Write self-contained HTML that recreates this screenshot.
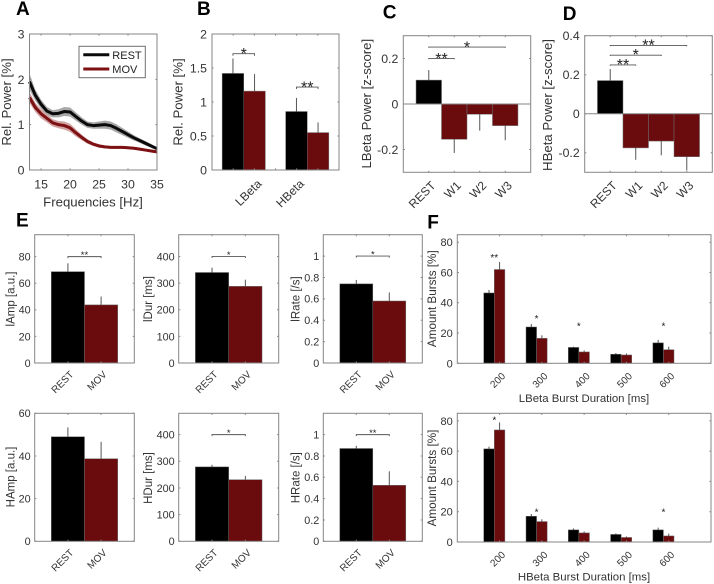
<!DOCTYPE html>
<html lang="en">
<head>
<meta charset="utf-8">
<title>Beta power and burst statistics</title>
<style>
html,body{margin:0;padding:0;background:#fff;}
body{width:714px;height:584px;overflow:hidden;}
svg{display:block;font-family:"Liberation Sans",Arial,sans-serif;}
</style>
</head>
<body>
<svg id="fig" xmlns="http://www.w3.org/2000/svg" width="714" height="584" viewBox="0 0 714 584"></svg>
<script>
// ---------- Panel A data ----------
const freqs = [13,14,15,16,17,18,19,20,21,22,23,24,25,26,27,28,29,30,31,32,33,34,35];
const restPower = [1.95,1.65,1.45,1.3,1.24,1.25,1.29,1.28,1.18,1.08,1.0,0.98,0.99,1.0,0.98,0.92,0.85,0.78,0.71,0.65,0.59,0.53,0.47];
const movPower = [1.6,1.38,1.24,1.14,1.04,1.0,0.98,0.93,0.82,0.72,0.63,0.57,0.53,0.51,0.5,0.5,0.5,0.49,0.48,0.46,0.44,0.42,0.4];
const restSem = [0.18,0.12,0.1,0.09,0.08,0.09,0.1,0.1,0.09,0.08,0.07,0.07,0.08,0.09,0.09,0.09,0.08,0.07,0.06,0.05,0.05,0.04,0.03];
const movSem = [0.12,0.1,0.1,0.09,0.08,0.08,0.09,0.09,0.08,0.06,0.05,0.04,0.04,0.03,0.03,0.03,0.03,0.03,0.03,0.03,0.03,0.03,0.03];
const freqTicks = [15,20,25,30,35];
const powerTicks = [0,1,2,3];

// ---------- Panel B data ----------
const bandCategories = ['LBeta','HBeta'];
const bandTickLabels = ['','LBeta','','HBeta',''];
const bandRest = [1.42,0.86];
const bandMov = [1.16,0.55];
const bandRestErr = [0.22,0.2];
const bandMovErr = [0.25,0.15];
const bandTicks = [0,0.5,1,1.5,2];

// ---------- Panels C, D data ----------
const windowCategories = ['REST','W1','W2','W3'];
const lBetaZ = [0.105,-0.155,-0.045,-0.095];
const lBetaZErr = [0.044,0.06,0.072,0.064];
const lBetaZTicks = [-0.2,0,0.2];
const hBetaZ = [0.17,-0.175,-0.14,-0.22];
const hBetaZErr = [0.059,0.061,0.073,0.07];
const hBetaZTicks = [-0.2,0,0.2,0.4];

// ---------- Panel E data ----------
const stateCategories = ['REST','MOV'];
const iAmp = [68.7,43.7];
const iAmpErr = [6.3,6.3];
const iAmpTicks = [0,20,40,60,80];
const iDur = [340,288];
const iDurErr = [18,25];
const durTicks = [0,100,200,300,400];
const iRate = [0.74,0.58];
const iRateErr = [0.037,0.08];
const rateTicks = [0,0.2,0.4,0.6,0.8,1];
const hAmp = [49,38.7];
const hAmpErr = [4.4,7.9];
const hAmpTicks = [0,20,40,60];
const hDur = [279,231];
const hDurErr = [8,14];
const hRate = [0.87,0.525];
const hRateErr = [0.025,0.131];

// ---------- Panel F data ----------
const durationCategories = ['200','300','400','500','600'];
const burstTicks = [0,20,40,60,80];
const lBurstRest = [46.5,24,10.5,6,13.5];
const lBurstMov = [62,16.5,7.5,5.5,9];
const lBurstRestErr = [2,2,0.5,0.8,2];
const lBurstMovErr = [5,2,1,1,2];
const lBurstSig = ['**','*','*','','*'];
const lBurstSigLevel = [71.3,30.8,26.1,0,26.1];
const hBurstRest = [61.5,17,8,5,8];
const hBurstMov = [74,13.5,6,3,4];
const hBurstRestErr = [1.5,1.5,1,0.7,1.5];
const hBurstMovErr = [5,1.5,1,0.7,1.5];
const hBurstSig = ['*','*','','','*'];
const hBurstSigLevel = [81.9,21.2,0,0,21.2];

const REST_COLOR = '#000000';
const MOV_COLOR = '#6a0c0e';
const AXIS_COLOR = '#858585';
const TEXT_COLOR = '#333333';
const svg = document.getElementById('fig');
const NS = 'http://www.w3.org/2000/svg';

function node(parent, tag, attrs, text) {
  const el = document.createElementNS(NS, tag);
  for (const k in attrs) el.setAttribute(k, attrs[k]);
  if (text !== undefined) el.textContent = text;
  parent.appendChild(el);
  return el;
}
function scale(d0, d1, p0, p1) {
  return function (v) { return p0 + (v - d0) / (d1 - d0) * (p1 - p0); };
}
function panelLetter(letter, x, y) {
  const el = node(svg, 'text', {x: x, y: y, 'font-size': 19, 'font-weight': 'bold', fill: '#000'}, letter);
  
  
}
function rotatedYLabel(g, text, x, y, size) {
  const el = node(g, 'text', {transform: 'translate(' + x + ',' + y + ') rotate(-90)', 'text-anchor': 'middle', 'font-size': size, fill: TEXT_COLOR}, text);
  
  
}
function xLabel(g, text, x, y, size) {
  const el = node(g, 'text', {x: x, y: y, 'text-anchor': 'middle', 'font-size': size, fill: TEXT_COLOR}, text);
  
  
}
function fmt(v) { return String(v); }

// Draw frame, ticks and tick labels.
function axes(name, opt) {
  const g = node(svg, 'g', {});
  
  
  const l = opt.box[0], t = opt.box[1], r = opt.box[2], b = opt.box[3];
  const x = scale(opt.xlim[0], opt.xlim[1], l, r);
  const y = scale(opt.ylim[0], opt.ylim[1], b, t);
  const marks = node(g, 'g', {});
  
  
  const frame = node(g, 'rect', {x: l, y: t, width: r - l, height: b - t, fill: 'none', stroke: AXIS_COLOR, 'stroke-width': 1});
  
  
  opt.yTicks.forEach(function (v) {
    const py = y(v);
    node(g, 'path', {d: 'M' + l + ' ' + py + 'h1.6M' + r + ' ' + py + 'h-1.6', stroke: AXIS_COLOR, 'stroke-width': 1, fill: 'none'});
    const lab = node(g, 'text', {x: l - opt.gap, y: py + opt.fs * 0.36, 'text-anchor': 'end', 'font-size': opt.fs, fill: TEXT_COLOR}, fmt(v));
    
    
  });
  opt.xTicks.forEach(function (v, i) {
    const px = x(v);
    node(g, 'path', {d: 'M' + px + ' ' + b + 'v-1.6M' + px + ' ' + t + 'v1.6', stroke: AXIS_COLOR, 'stroke-width': 1, fill: 'none'});
    if (!opt.xLabels[i]) return;
    const attrs = opt.rotate
      ? {transform: 'translate(' + (px + opt.rotDx) + ',' + (b + opt.rotDy) + ') rotate(-45)', 'text-anchor': 'end', 'font-size': opt.rotFs, fill: TEXT_COLOR}
      : {x: px, y: b + 18.5, 'text-anchor': 'middle', 'font-size': opt.fs, fill: TEXT_COLOR};
    const lab = node(g, 'text', attrs, opt.xLabels[i]);
    
    
  });
  return {g: g, marks: marks, x: x, y: y, l: l, r: r, t: t, b: b};
}
function bar(ax, from, to, value, err, color, name) {
  const y0 = ax.y(0), yv = ax.y(value);
  const errEnd = ax.y(value + (value >= 0 ? err : -err));
  const cx = ax.x((from + to) / 2);
  const rect = node(ax.marks, 'rect', {x: ax.x(from), y: Math.min(y0, yv), width: ax.x(to) - ax.x(from), height: Math.abs(y0 - yv), fill: color, stroke: '#6e6e6e', 'stroke-width': 0.5});
  
  
  const line = node(ax.marks, 'line', {x1: cx, x2: cx, y1: yv, y2: errEnd, stroke: '#555', 'stroke-width': 1});
  
  
}
function star(ax, px, cy, label, size) {
  const el = node(ax.g, 'text', {x: px, y: cy + size * 0.55, 'text-anchor': 'middle', 'font-size': size, fill: '#222'}, label);
  
  
}
function bracket(ax, a, b, level, label, size, tip, starGap) {
  const py = ax.y(level), x1 = ax.x(a), x2 = ax.x(b);
  const d = 'M' + x1 + ' ' + (py + tip) + 'V' + py + 'H' + x2 + 'V' + (py + tip);
  const el = node(ax.g, 'path', {d: d, fill: 'none', stroke: '#555', 'stroke-width': 0.9});
  
  
  star(ax, (x1 + x2) / 2, py - starGap, label, size);
}

// ---------- Panel A ----------
(function () {
  const ax = axes('panel-a-spectrum', {box: [29.5, 34, 157, 170], xlim: [13, 35], ylim: [0, 3], xTicks: freqTicks, xLabels: freqTicks.map(fmt), yTicks: powerTicks, fs: 12.3, gap: 5});
  function band(mean, sem, fill, name) {
    const up = freqs.map(function (f, i) { return ax.x(f) + ',' + ax.y(mean[i] + sem[i]); });
    const dn = freqs.map(function (f, i) { return ax.x(f) + ',' + ax.y(mean[i] - sem[i]); }).reverse();
    const el = node(ax.marks, 'polygon', {points: up.concat(dn).join(' '), fill: fill});
    
    
  }
  function curve(mean, color, name) {
    const pts = freqs.map(function (f, i) { return ax.x(f) + ',' + ax.y(mean[i]); }).join(' ');
    const el = node(ax.marks, 'polyline', {points: pts, fill: 'none', stroke: color, 'stroke-width': 3, 'stroke-linejoin': 'round'});
    
    
  }
  band(restPower, restSem, '#a8a8a8', 'rest-sem-band');
  band(movPower, movSem, '#d2a3a3', 'mov-sem-band');
  curve(restPower, '#0a0a0a', 'rest-line');
  curve(movPower, '#7c1012', 'mov-line');
  rotatedYLabel(ax.g, 'Rel. Power [%]', 11, 102, 13.2);
  xLabel(ax.g, 'Frequencies [Hz]', 93, 206.5, 13.2);
  const leg = node(ax.g, 'g', {});
  
  
  node(leg, 'rect', {x: 79, y: 46.3, width: 66.3, height: 31.4, fill: '#fff', stroke: '#707070', 'stroke-width': 1});
  const l1 = node(leg, 'line', {x1: 83.3, x2: 109.3, y1: 54.7, y2: 54.7, stroke: '#0a0a0a', 'stroke-width': 3});
  
  
  const t1 = node(leg, 'text', {x: 112.3, y: 58.8, 'font-size': 11, fill: '#222'}, 'REST');
  
  
  const l2 = node(leg, 'line', {x1: 83.3, x2: 109.3, y1: 69, y2: 69, stroke: '#7c1012', 'stroke-width': 3});
  
  
  const t2 = node(leg, 'text', {x: 112.3, y: 73.2, 'font-size': 11, fill: '#222'}, 'MOV');
  
  
})();

// ---------- Panel B ----------
(function () {
  const tickStep = 2 / 6;
  const tickPositions = bandTickLabels.map(function (_, i) { return 0.5 + (i + 1) * tickStep; });
  const ax = axes('panel-b-band-power', {box: [212, 34, 339, 170], xlim: [0.5, 2.5], ylim: [0, 2], xTicks: tickPositions, xLabels: bandTickLabels, yTicks: bandTicks, fs: 12.3, gap: 5, rotate: true, rotDx: 8, rotDy: 14.5, rotFs: 12});
  bandCategories.forEach(function (c, i) {
    const p = i + 1;
    bar(ax, p - 0.34, p, bandRest[i], bandRestErr[i], REST_COLOR, c + '-rest');
    bar(ax, p, p + 0.34, bandMov[i], bandMovErr[i], MOV_COLOR, c + '-mov');
  });
  bracket(ax, 1 - 0.17, 1 + 0.17, 1.71, '*', 16, 2, 3.5);
  bracket(ax, 2 - 0.17, 2 + 0.17, 1.22, '**', 16, 2, 3.5);
  rotatedYLabel(ax.g, 'Rel. Power [%]', 182.5, 102, 13.2);
})();

// ---------- Panels C, D ----------
function windowPanel(name, box, ylim, values, errs, ticks, label, labelX, labelY) {
  const ax = axes(name, {box: box, xlim: [0, 5], ylim: ylim, xTicks: [1, 2, 3, 4], xLabels: windowCategories, yTicks: ticks, fs: 12.3, gap: 5, rotate: true, rotDx: 7.5, rotDy: 14, rotFs: 12});
  windowCategories.forEach(function (c, i) {
    bar(ax, i + 0.5, i + 1.5, values[i], errs[i], i === 0 ? REST_COLOR : MOV_COLOR, c);
  });
  const z = node(ax.g, 'line', {x1: ax.l, x2: ax.r, y1: ax.y(0), y2: ax.y(0), stroke: AXIS_COLOR, 'stroke-width': 1});
  
  
  rotatedYLabel(ax.g, label, labelX, labelY, 13.2);
  return ax;
}
(function () {
  const c = windowPanel('panel-c-lbeta-z', [403.3, 35.7, 530.7, 172.3], [-0.3, 0.3], lBetaZ, lBetaZErr, lBetaZTicks, 'LBeta Power [z-score]', 371, 103.7);
  bracket(c, 1, 2, 0.2, '**', 16, 0.8, 3.5);
  bracket(c, 1, 4, 0.25, '*', 16, 0.8, 3.5);
  const d = windowPanel('panel-d-hbeta-z', [584.7, 35.7, 712.3, 172.3], [-0.3, 0.4], hBetaZ, hBetaZErr, hBetaZTicks, 'HBeta Power [z-score]', 552, 105);
  bracket(d, 1, 2, 0.25, '**', 16, 0.8, 4);
  bracket(d, 1, 3, 0.3, '*', 16, 0.8, 4);
  bracket(d, 1, 4, 0.35, '**', 16, 0.8, 4);
})();

// ---------- Panel E ----------
function statePanel(name, box, ylim, values, errs, ticks, label, labelX, labelY) {
  const ax = axes(name, {box: box, xlim: [0, 3], ylim: ylim, xTicks: [1, 2], xLabels: stateCategories, yTicks: ticks, fs: 10.8, gap: 4, rotate: true, rotDx: 6.3, rotDy: 12, rotFs: 10});
  stateCategories.forEach(function (c, i) {
    bar(ax, i + 0.5, i + 1.5, values[i], errs[i], i === 0 ? REST_COLOR : MOV_COLOR, c);
  });
  rotatedYLabel(ax.g, label, labelX, labelY, 11.5);
  return ax;
}
(function () {
  const a = statePanel('panel-e-iamp', [34.7, 234.7, 134.3, 363], [0, 96.5], iAmp, iAmpErr, iAmpTicks, 'lAmp [a.u.]', 14.3, 299);
  bracket(a, 1, 2, 80, '**', 9.5, 1.5, 4);
  const b = statePanel('panel-e-idur', [178.7, 234.7, 278.7, 363], [0, 482], iDur, iDurErr, durTicks, 'lDur [ms]', 152, 299);
  bracket(b, 1, 2, 400, '*', 9.5, 1.5, 4);
  const c = statePanel('panel-e-irate', [323.3, 234.7, 422.3, 363], [0, 1.2], iRate, iRateErr, rateTicks, 'lRate [/s]', 299.3, 299);
  bracket(c, 1, 2, 1, '*', 9.5, 1.5, 4);
  statePanel('panel-e-hamp', [34.7, 413.3, 134.3, 541.3], [0, 60], hAmp, hAmpErr, hAmpTicks, 'HAmp [a.u.]', 14.3, 477);
  const e = statePanel('panel-e-hdur', [178.7, 413.3, 278.7, 541.3], [0, 480], hDur, hDurErr, durTicks, 'HDur [ms]', 152, 478);
  bracket(e, 1, 2, 400, '*', 9.5, 1.5, 4);
  const f = statePanel('panel-e-hrate', [323.3, 413.3, 422.3, 541.3], [0, 1.2], hRate, hRateErr, rateTicks, 'HRate [/s]', 299.3, 477.7);
  bracket(f, 1, 2, 1, '**', 9.5, 1.5, 4);
})();

// ---------- Panel F ----------
function burstPanel(name, box, rest, mov, restErr, movErr, sig, sigLevel, xTitle, titleY, labelY) {
  const ax = axes(name, {box: box, xlim: [0, 6], ylim: [0, 85], xTicks: [1, 2, 3, 4, 5], xLabels: durationCategories, yTicks: burstTicks, fs: 11, gap: 4.5, rotate: true, rotDx: 6.4, rotDy: 13.4, rotFs: 10});
  durationCategories.forEach(function (c, i) {
    const p = i + 1;
    bar(ax, p - 0.375, p - 0.125, rest[i], restErr[i], REST_COLOR, c + '-rest');
    bar(ax, p - 0.125, p + 0.125, mov[i], movErr[i], MOV_COLOR, c + '-mov');
    if (sig[i]) star(ax, ax.x(p - 0.125), ax.y(sigLevel[i]), sig[i], 10);
  });
  rotatedYLabel(ax.g, 'Amount Bursts [%]', 436, labelY, 11.7);
  xLabel(ax.g, xTitle, 584, titleY, 11.4);
}
burstPanel('panel-f-lbeta-bursts', [457.3, 234.7, 711, 363.3], lBurstRest, lBurstMov, lBurstRestErr, lBurstMovErr, lBurstSig, lBurstSigLevel, 'LBeta Burst Duration [ms]', 402, 298.7);
burstPanel('panel-f-hbeta-bursts', [457.3, 413.3, 711, 542], hBurstRest, hBurstMov, hBurstRestErr, hBurstMovErr, hBurstSig, hBurstSigLevel, 'HBeta Burst Duration [ms]', 580.7, 478);

panelLetter('A', 16, 15);
panelLetter('B', 197, 15);
panelLetter('C', 382.7, 18.7);
panelLetter('D', 562.7, 20);
panelLetter('E', 16, 226.7);
panelLetter('F', 427.3, 228.3);
</script>
</body>
</html>
